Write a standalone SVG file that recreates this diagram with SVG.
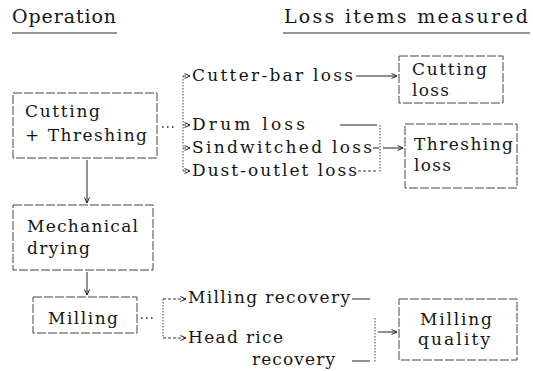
<svg xmlns="http://www.w3.org/2000/svg" width="533" height="371" viewBox="0 0 533 371">
<defs>
<marker id="ah" markerWidth="7" markerHeight="6" refX="6" refY="3" orient="auto" markerUnits="userSpaceOnUse">
<path d="M0.5,0.5 L6,3 L0.5,5.5" fill="none" stroke="#222" stroke-width="1"/>
</marker>
</defs>
<style>
text{font-family:"DejaVu Serif","Liberation Serif",serif;font-size:17px;fill:#151515}
.h{font-size:19px}
.box{fill:none;stroke:#444;stroke-width:1;stroke-dasharray:9 2}
.ln{fill:none;stroke:#222;stroke-width:1}
.dsh{fill:none;stroke:#333;stroke-width:1;stroke-dasharray:3 2}
.dot{fill:none;stroke:#444;stroke-width:1;stroke-dasharray:1.5 1.5}
.dots{fill:none;stroke:#222;stroke-width:1.5;stroke-dasharray:1.5 3.5}
.ul{fill:none;stroke:#333;stroke-width:1.2}
</style>
<rect width="533" height="371" fill="#fff"/>
<g id="header">
<text class="h" x="12" y="23" textLength="104">Operation</text>
<line class="ul" x1="12" y1="33" x2="117" y2="33"/>
<text class="h" x="284" y="23" textLength="244">Loss items measured</text>
<line class="ul" x1="283" y1="33" x2="530" y2="33"/>
</g>
<g id="cutting-threshing">
<rect class="box" x="13" y="93" width="144" height="65"/>
<text x="25" y="117" textLength="75">Cutting</text>
<text x="25" y="141" textLength="122">+ Threshing</text>
</g>
<g id="mechanical-drying">
<rect class="box" x="13" y="205" width="140" height="65"/>
<text x="27" y="232" textLength="111">Mechanical</text>
<text x="27" y="254" textLength="63">drying</text>
</g>
<g id="milling">
<rect class="box" x="33" y="297" width="104" height="36"/>
<text x="48" y="324" textLength="70">Milling</text>
</g>
<g id="cutting-loss">
<rect class="box" x="399" y="56" width="104" height="47"/>
<text x="412" y="75" textLength="75">Cutting</text>
<text x="412" y="96" textLength="37">loss</text>
</g>
<g id="threshing-loss">
<rect class="box" x="405" y="124" width="112" height="64"/>
<text x="414" y="150" textLength="99">Threshing</text>
<text x="414" y="171" textLength="37">loss</text>
</g>
<g id="milling-quality">
<rect class="box" x="399" y="299" width="118" height="61"/>
<text x="420" y="325" textLength="72">Milling</text>
<text x="418" y="345" textLength="72">quality</text>
</g>
<g id="cutter-bar-loss"><text x="192" y="81" textLength="161">Cutter-bar loss</text></g>
<g id="drum-loss"><text x="192" y="130" textLength="113">Drum loss</text></g>
<g id="sindwitched-loss"><text x="192" y="153" textLength="180">Sindwitched loss</text></g>
<g id="dust-outlet-loss"><text x="192" y="176" textLength="165">Dust-outlet loss</text></g>
<g id="milling-recovery"><text x="188" y="303" textLength="162">Milling recovery</text></g>
<g id="head-rice-recovery">
<text x="188" y="343" textLength="95">Head rice</text>
<text x="252" y="365" textLength="83">recovery</text>
</g>
<g id="connectors">
<line class="ln" x1="87" y1="160" x2="87" y2="203" marker-end="url(#ah)"/>
<line class="ln" x1="87" y1="272" x2="87" y2="295" marker-end="url(#ah)"/>
<line class="dots" x1="162" y1="127" x2="174" y2="127"/>
<line class="dot" x1="183" y1="76" x2="183" y2="171"/>
<line class="dsh" x1="183" y1="76" x2="190" y2="76" marker-end="url(#ah)"/>
<line class="dsh" x1="183" y1="125" x2="190" y2="125" marker-end="url(#ah)"/>
<line class="dsh" x1="183" y1="148" x2="190" y2="148" marker-end="url(#ah)"/>
<line class="dsh" x1="183" y1="171" x2="190" y2="171" marker-end="url(#ah)"/>
<line class="ln" x1="356" y1="76" x2="397" y2="76" marker-end="url(#ah)"/>
<line class="ln" x1="340" y1="125" x2="377" y2="125"/>
<line class="ln" x1="373" y1="148" x2="379" y2="148"/>
<line class="dsh" x1="358" y1="171" x2="378" y2="171"/>
<line class="dot" x1="380" y1="125" x2="380" y2="172"/>
<line class="ln" x1="383" y1="148" x2="403" y2="148" marker-end="url(#ah)"/>
<line class="dots" x1="141" y1="318" x2="153" y2="318"/>
<line class="dot" x1="163" y1="299" x2="163" y2="338"/>
<line class="dsh" x1="163" y1="299" x2="186" y2="299" marker-end="url(#ah)"/>
<line class="dsh" x1="163" y1="338" x2="186" y2="338" marker-end="url(#ah)"/>
<line class="ln" x1="352" y1="299" x2="370" y2="299"/>
<line class="ln" x1="352" y1="361" x2="370" y2="361"/>
<line class="dot" x1="375" y1="318" x2="375" y2="362"/>
<line class="ln" x1="378" y1="332" x2="397" y2="332" marker-end="url(#ah)"/>
</g>
</svg>
